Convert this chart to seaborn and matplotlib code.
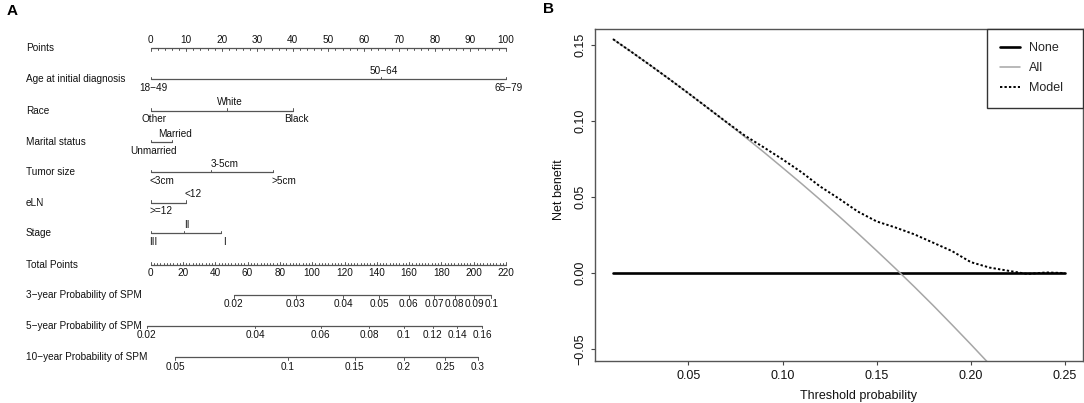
import matplotlib
matplotlib.use("Agg")
import matplotlib.pyplot as plt
import numpy as np
import pandas as pd
import seaborn as sns

# ---------------- Panel A : nomogram data ----------------
points_ticks = [0, 10, 20, 30, 40, 50, 60, 70, 80, 90, 100]
age_labels = ["18\u221249", "50\u221264", "65\u221279"]
age_points = [0, 64.9, 100]
race_labels = ["Other", "White", "Black"]
race_points = [0, 21.5, 40.1]
marital_labels = ["Unmarried", "Married"]
marital_points = [0, 6.1]
tumor_labels = ["<3cm", "3-5cm", ">5cm"]
tumor_points = [0, 17.1, 34.3]
eln_labels = [">=12", "<12"]
eln_points = [0, 9.8]
stage_labels = ["III", "II", "I"]
stage_points = [0, 9.5, 19.9]
total_ticks = [0, 20, 40, 60, 80, 100, 120, 140, 160, 180, 200, 220]
prob3_labels = ["0.02", "0.03", "0.04", "0.05", "0.06", "0.07", "0.08", "0.09", "0.1"]
prob3_total = [51.5, 89.9, 119.2, 141.6, 159.8, 175.4, 188.2, 200.3, 211.0]
prob5_labels = ["0.02", "0.04", "0.06", "0.08", "0.1", "0.12", "0.14", "0.16"]
prob5_total = [-2.6, 64.7, 105.3, 135.2, 156.6, 174.7, 189.7, 205.3]
prob10_labels = ["0.05", "0.1", "0.15", "0.2", "0.25", "0.3"]
prob10_total = [15.2, 85.0, 126.2, 156.6, 182.2, 202.5]
row_names = ["Points", "Age at initial diagnosis", "Race", "Marital status",
             "Tumor size", "eLN", "Stage", "Total Points",
             "3\u2212year Probability of SPM", "5\u2212year Probability of SPM",
             "10\u2212year Probability of SPM"]

# ---------------- Panel B : decision curve data ----------------
thresholds = [0.01, 0.02, 0.03, 0.04, 0.05, 0.06, 0.07, 0.08, 0.09, 0.10,
              0.11, 0.12, 0.13, 0.14, 0.15, 0.16, 0.17, 0.18, 0.19, 0.20,
              0.21, 0.22, 0.23, 0.24, 0.25]
nb_none = [0.0] * 25
nb_all = [0.1540, 0.1454, 0.1366, 0.1276, 0.1184, 0.1090, 0.0995, 0.0897, 0.0797, 0.0694,
          0.0590, 0.0483, 0.0374, 0.0262, 0.0147, 0.0030, -0.0090, -0.0213, -0.0340, -0.0469,
          -0.0601, -0.0737, -0.0877, -0.1020, -0.1167]
nb_model = [0.1540, 0.1454, 0.1366, 0.1276, 0.1184, 0.1090, 0.0996, 0.0905, 0.0828, 0.0749,
            0.0665, 0.0570, 0.0490, 0.0405, 0.0340, 0.0300, 0.0255, 0.0200, 0.0145, 0.0072,
            0.0036, 0.0015, -0.0006, 0.0004, 0.0000]

# ---------------- style ----------------
sns.set_theme(style="white")
plt.rcParams["font.family"] = ["Liberation Sans", "DejaVu Sans"]

fig = plt.figure(figsize=(10.84, 4.03), dpi=100)

# ======== Panel A ========
W_A = 540
axA = fig.add_axes([0, 0, W_A / 1084, 1])
axA.axis("off")
x0_px, px_per_pt = 150.7, 3.553
axA.set_xlim(-x0_px / px_per_pt, (W_A - x0_px) / px_per_pt)
axA.set_ylim(403, 0)

row_y = [48.3, 79.3, 110.7, 142.3, 172.3, 202.7, 233.3, 265.0, 295.0, 325.7, 357.3]
name_x = (26 - x0_px) / px_per_pt
lc = "#555555"
tc = "#111111"
fsA = 7.2
off = 8.3

for name, y in zip(row_names, row_y):
    axA.text(name_x, y, name, ha="left", va="center", fontsize=fsA, color=tc)

# Points axis
y = row_y[0]
axA.plot([points_ticks[0], points_ticks[-1]], [y, y], color=lc, lw=0.9)
for v in np.arange(0, 100.1, 2):
    L = 3.0 if v % 10 == 0 else 2.0
    axA.plot([v, v], [y, y + L], color=lc, lw=0.7)
for v in points_ticks:
    axA.text(v, y - off, str(v), ha="center", va="center", fontsize=fsA, color=tc)

# categorical rows
cat_rows = [(age_labels, age_points, "center"),
            (race_labels, race_points, "center"),
            (marital_labels, marital_points, "center"),
            (tumor_labels, tumor_points, "left"),
            (eln_labels, eln_points, "left"),
            (stage_labels, stage_points, "center")]
for (labels, pts, ha), y in zip(cat_rows, row_y[1:7]):
    axA.plot([min(pts), max(pts)], [y, y], color=lc, lw=0.9)
    for i, (lab, p) in enumerate(zip(labels, pts)):
        axA.plot([p, p], [y, y - 2.5], color=lc, lw=0.7)
        ty = y + off if i % 2 == 0 else y - off
        dx = -0.3 if ha == "left" else 0.8
        axA.text(p + dx, ty, lab, ha=ha, va="center", fontsize=fsA, color=tc)

# Total points axis
scale_tp = 100 / 220
y = row_y[7]
axA.plot([0, 220 * scale_tp], [y, y], color=lc, lw=0.9)
for v in np.arange(0, 220.1, 2):
    L = 3.0 if v % 20 == 0 else 2.0
    axA.plot([v * scale_tp] * 2, [y, y - L], color=lc, lw=0.7)
for v in total_ticks:
    axA.text(v * scale_tp, y + off, str(v), ha="center", va="center", fontsize=fsA, color=tc)

# probability axes
for (labels, tot), y in zip([(prob3_labels, prob3_total),
                             (prob5_labels, prob5_total),
                             (prob10_labels, prob10_total)], row_y[8:]):
    xs = [t * scale_tp for t in tot]
    axA.plot([xs[0], xs[-1]], [y, y], color=lc, lw=0.9)
    for lab, xv in zip(labels, xs):
        axA.plot([xv, xv], [y, y + 2.5], color=lc, lw=0.7)
        axA.text(xv, y + off + 1, lab, ha="center", va="center", fontsize=fsA, color=tc)

fig.text(12 / 1084, 1 - 11 / 403, "A", fontsize=11, fontweight="bold",
         ha="center", va="center", color="black")

# ======== Panel B ========
L, R, T, B = 595, 1083, 29, 361
axB = fig.add_axes([L / 1084, 1 - B / 403, (R - L) / 1084, (B - T) / 403])

df = pd.DataFrame({"threshold": thresholds, "None": nb_none,
                   "All": nb_all, "Model": nb_model})
sns.lineplot(data=df, x="threshold", y="None", ax=axB, color="black",
             lw=1.9, label="None")
sns.lineplot(data=df, x="threshold", y="All", ax=axB, color="#a6a6a6",
             lw=1.1, label="All")
sns.lineplot(data=df, x="threshold", y="Model", ax=axB, color="black",
             lw=1.4, linestyle=(0, (1.2, 1.1)), label="Model")

axB.set_xlim(0.0004, 0.2596)
axB.set_ylim(-0.0579, 0.1607)
xt = [0.05, 0.10, 0.15, 0.20, 0.25]
yt = [-0.05, 0.00, 0.05, 0.10, 0.15]
axB.set_xticks(xt)
axB.set_xticklabels([f"{v:.2f}" for v in xt])
axB.set_yticks(yt)
axB.set_yticklabels([f"{v:.2f}".replace("-", "\u2212") for v in yt])
axB.tick_params(axis="both", which="major", direction="out", length=3.2,
                width=0.8, color="#444444", labelsize=9, pad=3, labelcolor=tc,
                bottom=True, left=True)
for lab in axB.get_yticklabels():
    lab.set_rotation(90)
    lab.set_va("center")
    lab.set_ha("right")
for s in axB.spines.values():
    s.set_visible(True)
    s.set_color("#555555")
    s.set_linewidth(1.0)

axB.set_xlabel("Threshold probability", fontsize=9, color=tc)
axB.set_ylabel("Net benefit", fontsize=9, color=tc)
axB.xaxis.set_label_coords((858 - L) / (R - L), (B - 396) / (B - T))
axB.xaxis.label.set_va("center")
axB.yaxis.set_label_coords((559 - L) / (R - L), (B - 190) / (B - T))
axB.yaxis.label.set_va("center")

leg = axB.legend(loc="upper right",
                 bbox_to_anchor=((986.7 - L) / (R - L), 0, (R - 986.7) / (R - L), 1.0),
                 mode="expand", borderaxespad=0, frameon=True, fancybox=False,
                 edgecolor="#333333", framealpha=1, fontsize=9,
                 handlelength=1.6, handletextpad=0.76, labelspacing=0.65,
                 borderpad=1.05)
leg.get_frame().set_linewidth(1.0)

fig.text(548.5 / 1084, 1 - 9 / 403, "B", fontsize=11, fontweight="bold",
         ha="center", va="center", color="black")

fig.savefig("out.png", dpi=100)
